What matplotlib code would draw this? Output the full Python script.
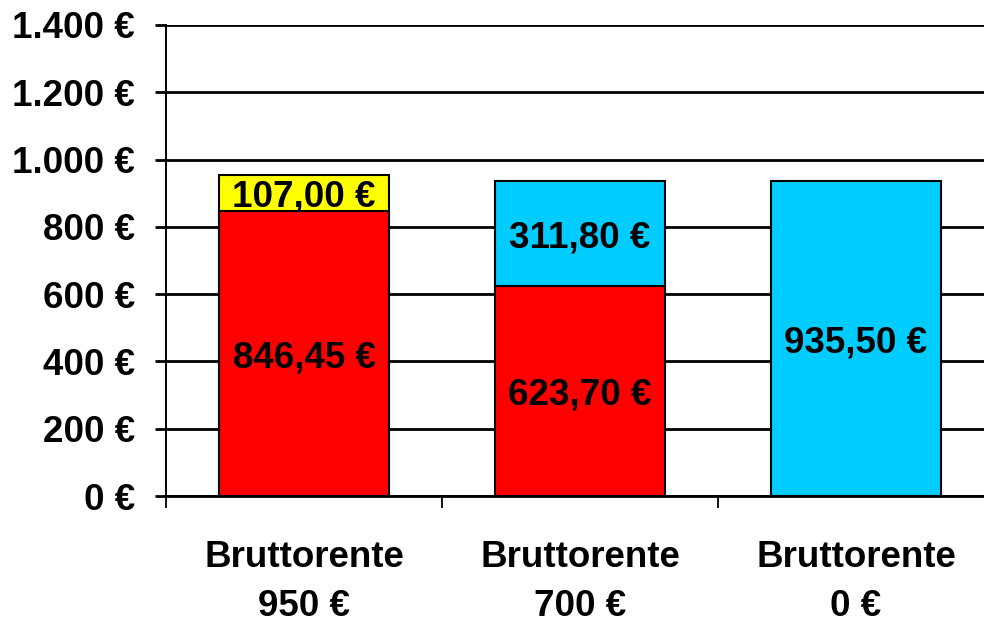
import matplotlib
matplotlib.use("Agg")
import matplotlib.pyplot as plt
from matplotlib.ticker import FuncFormatter, FixedLocator
import numpy as np

categories = ["Bruttorente\n950 €", "Bruttorente\n700 €", "Bruttorente\n0 €"]
red_vals = [846.45, 623.70, 0.0]
yellow_vals = [107.00, 0.0, 0.0]
cyan_vals = [0.0, 311.80, 935.50]
y_ticks = [0, 200, 400, 600, 800, 1000, 1200, 1400]

plt.rcParams['font.family'] = ['Liberation Sans', 'DejaVu Sans']
plt.rcParams['font.weight'] = 'bold'

fig = plt.figure(figsize=(9.84, 6.23), dpi=100)
ax = fig.add_axes([166/984, 127/623, (994-166)/984, (598-127)/623])

x = np.arange(len(categories))
w = 0.616
red = np.array(red_vals)
yel = np.array(yellow_vals)
cya = np.array(cyan_vals)

def euro(v):
    return f"{v:,.2f}".replace(",", "X").replace(".", ",").replace("X", ".") + " €"

layers = [(red, np.zeros(3), '#FF0000'),
          (yel, red, '#FFFF00'),
          (cya, red + yel, '#00CCFF')]
for vals, bottom, col in layers:
    for i in range(3):
        if vals[i] > 0:
            ax.bar(x[i], vals[i], w, bottom=bottom[i], color=col,
                   edgecolor='black', linewidth=1.5, zorder=3)
            ax.text(x[i], bottom[i] + vals[i] / 2, euro(vals[i]),
                    ha='center', va='center_baseline', fontsize=26.5,
                    fontweight='bold', zorder=4)

ax.set_xlim(-0.5, 2.5)
ax.set_ylim(0, 1400)
ax.yaxis.set_major_locator(FixedLocator(y_ticks))
ax.yaxis.set_major_formatter(FuncFormatter(
    lambda v, p: f"{v:,.0f}".replace(",", ".") + " €"))
ax.grid(axis='y', color='black', linewidth=2.0, zorder=1)
ax.set_axisbelow(True)

ax.set_xticks([-0.5, 0.5, 1.5])
ax.set_xticklabels([])
ax.set_xticks(x, minor=True)
ax.set_xticklabels(categories, minor=True, fontsize=26.5, fontweight='bold',
                   linespacing=1.49)
ax.tick_params(axis='x', which='minor', length=0, pad=32)
ax.tick_params(axis='x', which='major', length=8.5, width=1.3, color='black')
ax.tick_params(axis='y', which='major', length=8, width=2.0, pad=14.3,
               labelsize=26.5, color='black')

for s in ['top', 'right']:
    ax.spines[s].set_visible(False)
ax.spines['left'].set_linewidth(1.4)
ax.spines['bottom'].set_linewidth(2.0)

fig.savefig("out.png", dpi=100)
